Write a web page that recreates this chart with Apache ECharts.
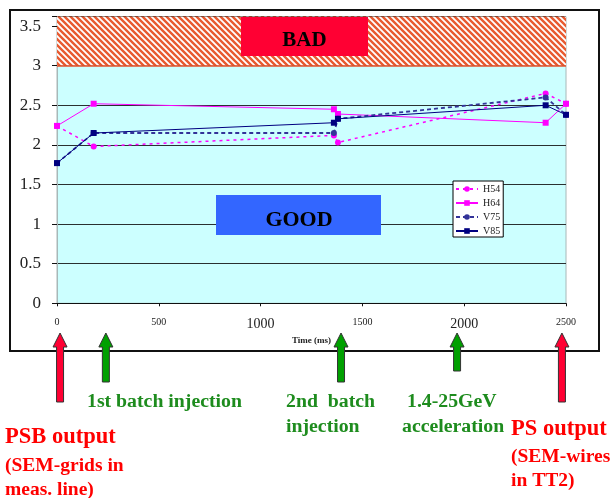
<!DOCTYPE html>
<html><head><meta charset="utf-8">
<script src="https://cdn.jsdelivr.net/npm/echarts@6/dist/echarts.min.js"></script>
<style>html,body{margin:0;padding:0;background:#fff}#c{width:613px;height:498px}</style>
</head><body><div id="c"></div>
<script>
// ---- data ----
const seriesNames = ['H54', 'H64', 'V75', 'V85'];
const timesMs = [0, 180, 1360, 1380, 2400, 2500];
const h54 = [2.24, 1.98, 2.12, 2.03, 2.65, 2.52];
const h64 = [2.24, 2.52, 2.45, 2.39, 2.28, 2.52];
const v75 = [1.77, 2.15, 2.15, 2.33, 2.60, 2.38];
const v85 = [1.77, 2.15, 2.28, 2.33, 2.50, 2.38];
const xTicks = [0, 500, 1000, 1500, 2000, 2500];
const yTicks = [0, 0.5, 1, 1.5, 2, 2.5, 3, 3.5];
const goodLimit = 3;
const yTop = 3.62;
const bigXLabels = [1000, 2000];
// events (time in ms) marked by arrows under the axis
const eventTimes = [15, 240, 1395, 1965, 2480];
const eventKinds = ['red', 'green', 'green', 'green', 'red'];

const SERIF = '"Liberation Serif","DejaVu Serif",serif';

function hatchCanvas() {
  const c = document.createElement('canvas');
  c.width = 6; c.height = 6;
  const g = c.getContext('2d');
  g.fillStyle = '#ffffff'; g.fillRect(0, 0, 6, 6);
  g.strokeStyle = '#e85a30'; g.lineWidth = 2.4;
  g.beginPath();
  g.moveTo(-2, -2); g.lineTo(8, 8);
  g.moveTo(-5, 1); g.lineTo(5, 11);
  g.moveTo(1, -5); g.lineTo(11, 5);
  g.stroke();
  return c;
}

function pairs(ys) { return timesMs.map((t, i) => [t, ys[i]]); }

const chart = echarts.init(document.getElementById('c'), null, { renderer: 'canvas' });

const option = {
  animation: false,
  backgroundColor: '#ffffff',
  grid: {
    left: 57, right: 47, top: 16.6, bottom: 194.7,
    show: true, backgroundColor: '#ccffff', borderColor: '#a8b8b8', borderWidth: 1
  },
  xAxis: {
    type: 'value', min: xTicks[0], max: xTicks[xTicks.length - 1], interval: 500,
    name: 'Time (ms)', nameLocation: 'middle', nameGap: 32,
    nameTextStyle: { fontFamily: SERIF, fontWeight: 'bold', fontSize: 9, color: '#222' },
    axisLine: { show: true, onZero: false, lineStyle: { color: '#111', width: 1 } },
    axisTick: { show: true, length: 3, lineStyle: { color: '#111' } },
    splitLine: { show: false },
    axisLabel: {
      margin: 14, color: '#222', fontFamily: SERIF,
      formatter: v => bigXLabels.includes(v) ? '{b|' + v + '}' : '{s|' + v + '}',
      rich: { s: { fontSize: 10, fontFamily: SERIF, color: '#222' }, b: { fontSize: 14, fontFamily: SERIF, color: '#222' } }
    }
  },
  yAxis: {
    type: 'value', min: 0, max: yTop, interval: 0.5,
    axisLine: { show: true, lineStyle: { color: '#a8b8b8' } },
    axisTick: { show: true, length: 5, lineStyle: { color: '#111' } },
    splitLine: { show: true, lineStyle: { color: '#2a3030', width: 1 } },
    axisLabel: {
      margin: 16, fontSize: 17, fontFamily: SERIF, color: '#222', padding: [5, 0, 0, 0],
      formatter: v => yTicks.some(t => Math.abs(t - v) < 1e-6) ? String(v) : ''
    }
  },
  legend: {
    orient: 'vertical', left: 453, top: 181,
    data: seriesNames,
    backgroundColor: '#ffffff', borderColor: '#000', borderWidth: 1, borderRadius: 0,
    padding: [3, 3, 1, 2], itemGap: 4, itemWidth: 22, itemHeight: 7,
    textStyle: { fontFamily: SERIF, fontSize: 10, color: '#222', padding: [5, 0, 0, 0] }
  },
  series: [
    {
      name: 'H54', type: 'line', data: pairs(h54), symbol: 'circle', symbolSize: 6,
      lineStyle: { color: '#ff00ff', width: 1.5, type: [3, 4] },
      itemStyle: { color: '#ff00ff' }, z: 3,
      markArea: {
        silent: true,
        itemStyle: { color: { image: hatchCanvas(), repeat: 'repeat' } },
        data: [[{ yAxis: goodLimit }, { yAxis: yTop }]]
      },
      markLine: {
        silent: true, symbol: 'none', label: { show: false },
        lineStyle: { color: '#e4532c', width: 1.5, type: 'solid' },
        data: [{ yAxis: goodLimit }]
      }
    },
    {
      name: 'H64', type: 'line', data: pairs(h64), symbol: 'rect', symbolSize: 6,
      lineStyle: { color: '#ff00ff', width: 1, type: 'solid' },
      itemStyle: { color: '#ff00ff' }, z: 4
    },
    {
      name: 'V75', type: 'line', data: pairs(v75), symbol: 'circle', symbolSize: 6,
      lineStyle: { color: '#333399', width: 1.8, type: [4, 3] },
      itemStyle: { color: '#333399' }, z: 5
    },
    {
      name: 'V85', type: 'line', data: pairs(v85), symbol: 'rect', symbolSize: 6,
      lineStyle: { color: '#000080', width: 1, type: 'solid' },
      itemStyle: { color: '#000080' }, z: 6
    }
  ]
};
chart.setOption(option);

// ---- annotations ----
const g = [];
g.push({ type: 'rect', shape: { x: 10, y: 10, width: 589, height: 341 }, style: { fill: 'none', stroke: '#111', lineWidth: 2 }, z: 0, silent: true });
g.push({ type: 'rect', shape: { x: 241, y: 17, width: 127, height: 39 }, style: { fill: '#ff0033' }, z: 10 });
g.push({ type: 'text', x: 304.5, y: 41, style: { text: 'BAD', font: 'bold 21px ' + SERIF, fill: '#000', align: 'center', verticalAlign: 'middle' }, z: 11 });
g.push({ type: 'rect', shape: { x: 216, y: 195, width: 165, height: 40 }, style: { fill: '#3366ff' }, z: 10 });
g.push({ type: 'text', x: 299, y: 220, style: { text: 'GOOD', font: 'bold 22px ' + SERIF, fill: '#000', align: 'center', verticalAlign: 'middle' }, z: 11 });

const shaftEnds = { red: 402, green: 382 };
eventTimes.forEach((t, i) => {
  const x = chart.convertToPixel({ xAxisIndex: 0 }, t);
  const kind = eventKinds[i];
  const yb = (i === 3) ? 371 : shaftEnds[kind];
  const top = 333, hb = 347, hw = 7, sw = 3.5;
  g.push({
    type: 'polygon',
    shape: { points: [[x, top], [x + hw, hb], [x + sw, hb], [x + sw, yb], [x - sw, yb], [x - sw, hb], [x - hw, hb]] },
    style: { fill: kind === 'red' ? '#ff0033' : '#00a000', stroke: '#333', lineWidth: 1 }, z: 12
  });
});

const GREEN = '#1e8c1e', RED = '#ff0000';
function txt(s, x, y, size, color) {
  g.push({ type: 'text', x: x, y: y, style: { text: s, font: 'bold ' + size + 'px ' + SERIF, fill: color, verticalAlign: 'middle' }, z: 12 });
}
txt('1st batch injection', 87, 402, 19.8, GREEN);
txt('2nd  batch', 286, 402, 19.8, GREEN);
txt('injection', 286, 427, 19.8, GREEN);
txt('1.4-25GeV', 407, 402, 19.8, GREEN);
txt('acceleration', 402, 427, 19.8, GREEN);
txt('PSB output', 5, 437, 22.5, RED);
txt('(SEM-grids in', 5, 466, 19.5, RED);
txt('meas. line)', 5, 490, 19.5, RED);
txt('PS output', 511, 429, 22.5, RED);
txt('(SEM-wires', 511, 457, 19.5, RED);
txt('in TT2)', 511, 481, 19.5, RED);

chart.setOption({ graphic: { elements: g } });
</script>
</body></html>
